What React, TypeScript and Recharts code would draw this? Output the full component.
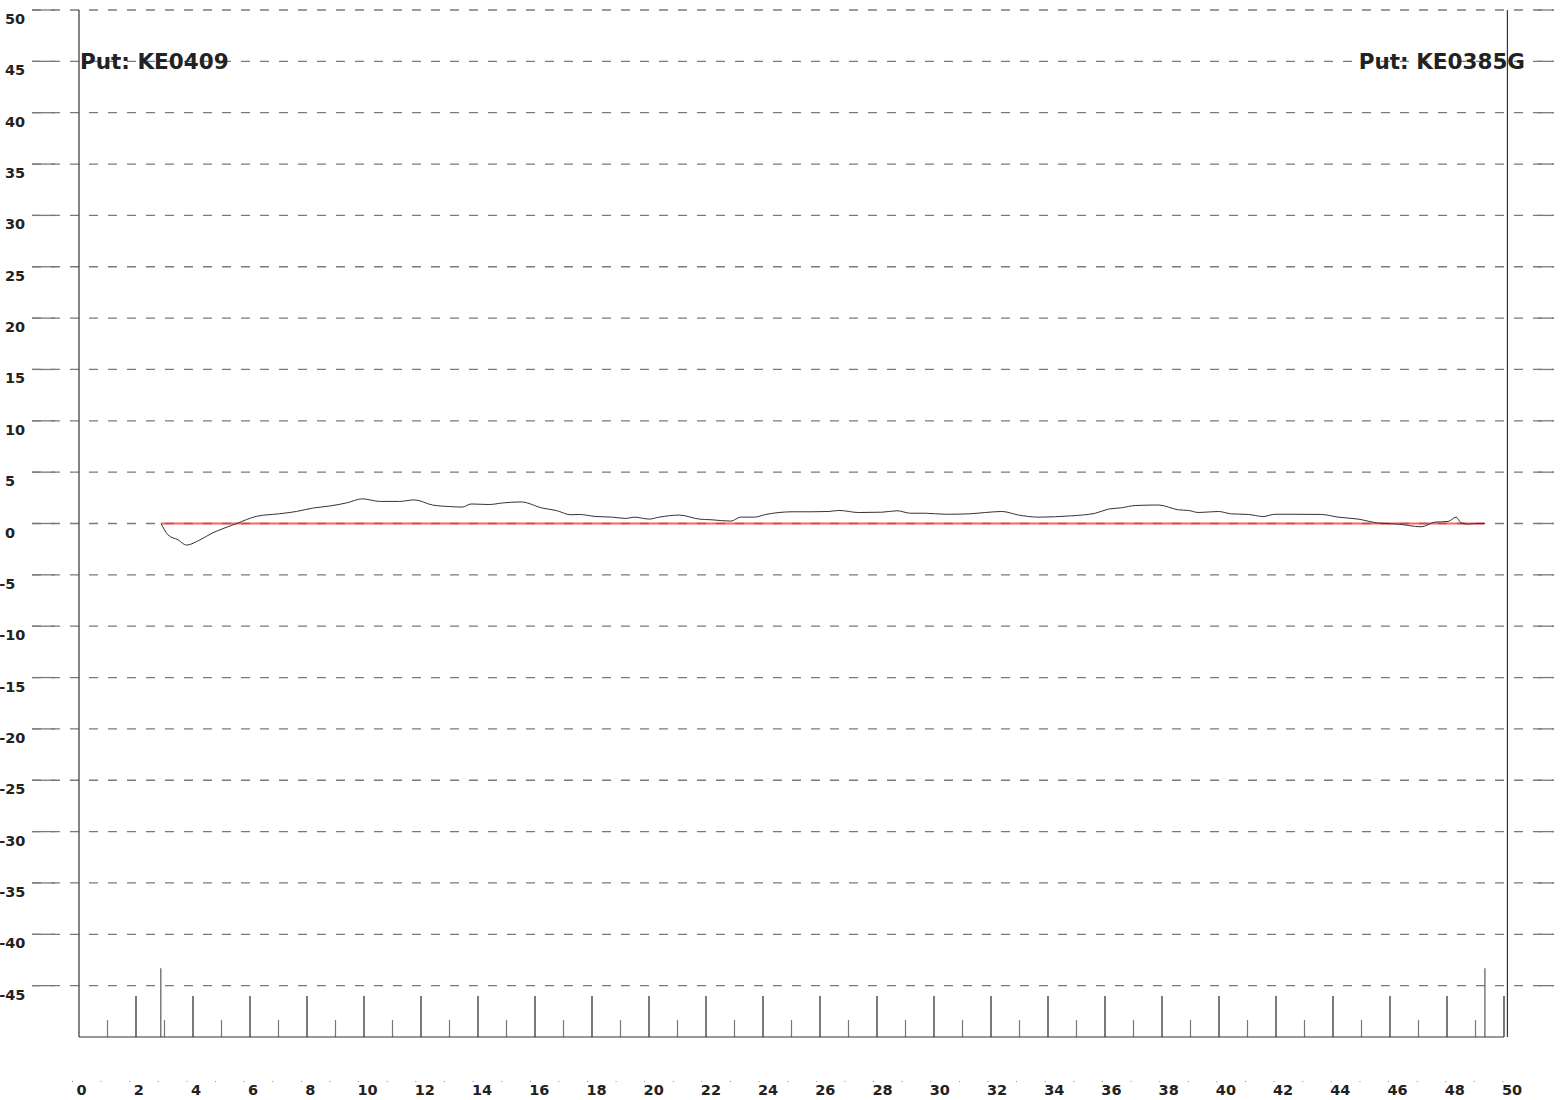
import React from 'react';
import { LineChart, Line, XAxis, YAxis, ReferenceLine } from 'recharts';

// profile (x in units along the axis, y = deviation)
const profileX = [
  2.88, 3.12, 3.48, 3.77, 4.24, 4.7, 5.05, 5.53, 6.23, 7.04, 7.63, 8.2, 8.79, 9.38, 9.95,
  10.55, 11.25, 11.77, 12.4, 13.0, 13.45, 13.76, 14.4, 14.86, 15.51, 16.26, 16.74, 17.26,
  17.55, 18.14, 18.71, 19.19, 19.48, 20.01, 20.36, 21.06, 21.76, 22.21, 22.87, 23.22,
  23.69, 24.1, 24.56, 25.02, 25.72, 26.31, 26.66, 27.36, 28.17, 28.7, 29.18, 29.7, 30.4,
  31.22, 31.8, 32.38, 32.97, 33.67, 34.26, 34.83, 35.66, 36.12, 36.58, 37.06, 37.88,
  38.58, 38.93, 39.28, 39.98, 40.43, 41.03, 41.55, 41.97, 42.67, 43.59, 44.18, 44.88,
  45.59, 46.29, 47.1, 47.57, 48.04, 48.32, 48.49, 48.74, 49.09, 49.32,
];
const profileY = [
  0, -1.1, -1.6, -2.1, -1.6, -0.9, -0.5, 0, 0.7, 0.95, 1.17, 1.5, 1.7, 2.0, 2.4,
  2.15, 2.15, 2.3, 1.8, 1.65, 1.6, 1.9, 1.85, 2.0, 2.1, 1.5, 1.27, 0.85,
  0.88, 0.68, 0.62, 0.49, 0.62, 0.43, 0.62, 0.82, 0.43, 0.36, 0.23, 0.62,
  0.62, 0.88, 1.07, 1.14, 1.14, 1.17, 1.27, 1.07, 1.1, 1.24, 1.0, 1.0, 0.9,
  0.94, 1.07, 1.17, 0.82, 0.62, 0.66, 0.75, 1.0, 1.4, 1.53, 1.75, 1.8,
  1.33, 1.27, 1.07, 1.17, 0.94, 0.88, 0.68, 0.9, 0.9, 0.88, 0.62, 0.43,
  0.04, -0.06, -0.32, 0.13, 0.2, 0.62, 0.07, -0.06, 0, 0,
];
const baselineX = [2.88, 49.32];
const baselineY = [0, 0];

const yTicks = [50, 45, 40, 35, 30, 25, 20, 15, 10, 5, 0, -5, -10, -15, -20, -25, -30, -35, -40, -45];
const xTicks = Array.from({ length: 51 }, (_, i) => i);
const majorMarks = [2, 4, 6, 8, 10, 12, 14, 16, 18, 20, 22, 24, 26, 28, 30, 32, 34, 36, 38, 40, 42, 44, 46, 48, 50];
const minorMarks = [1, 3, 5, 7, 9, 11, 13, 15, 17, 19, 21, 23, 25, 27, 29, 31, 33, 35, 37, 39, 41, 43, 45, 47, 49];
const endMarks = [2.87, 49.33];

const leftTitle = 'Put: KE0409';
const rightTitle = 'Put: KE0385G';

const W = 1568;
const H = 1100;
const FONT = '"DejaVu Sans", Verdana, sans-serif';

const profile = profileX.map((x, i) => ({ x, y: profileY[i] }));
const baseline = baselineX.map((x, i) => ({ x, y: baselineY[i] }));

const LeftTick = (props: any) => {
  const { y, payload } = props;
  const v = payload.value;
  return (
    <text x={v < 0 ? -0.8 : 5} y={y + 14} fontFamily={FONT} fontWeight="bold" fontSize={14.5} fill="#222">
      {v}
    </text>
  );
};

const RightTick = (props: any) => {
  const { y, payload } = props;
  const v = payload.value;
  return (
    <text x={v < 0 ? 1539 : 1545} y={y + 14} fontFamily={FONT} fontWeight="bold" fontSize={14.5} fill="#222">
      {v}
    </text>
  );
};

// labels sit slightly right of their tick, drifting a little further right towards 50
const BottomTick = (props: any) => {
  const { x, payload } = props;
  const v = payload.value;
  const lx = x + 2.5 + v * 0.11;
  return (
    <g>
      <rect x={lx - 9.5} y={1081} width={1} height={1} fill="#888" />
      {v % 2 === 0 && (
        <text x={lx} y={1095} textAnchor="middle" fontFamily={FONT} fontWeight="bold" fontSize={14.5} fill="#222">
          {v}
        </text>
      )}
    </g>
  );
};

export default function App() {
  return (
    <div style={{ position: 'absolute', left: 0, top: 0, width: W, height: H, background: '#fff' }}>
      <LineChart width={W} height={H} margin={{ top: 10, right: 0, bottom: 10, left: 0 }}>
        <XAxis
          type="number"
          dataKey="x"
          domain={[0, 50]}
          ticks={xTicks}
          interval={0}
          height={53}
          tickLine={false}
          axisLine={{ stroke: '#333', strokeWidth: 1.2 }}
          tick={(p: any) => <BottomTick {...p} />}
        />
        <YAxis
          yAxisId="left"
          type="number"
          domain={[-50, 50]}
          ticks={yTicks}
          interval={0}
          width={79}
          tickLine={false}
          axisLine={{ stroke: '#333', strokeWidth: 1.2 }}
          tick={(p: any) => <LeftTick {...p} />}
        />
        <YAxis
          yAxisId="right"
          orientation="right"
          type="number"
          domain={[-50, 50]}
          ticks={yTicks}
          interval={0}
          width={64}
          tickLine={false}
          axisLine={false}
          tick={(p: any) => <RightTick {...p} />}
        />

        {yTicks.map((v) => (
          <ReferenceLine
            key={`g${v}`}
            yAxisId="left"
            ifOverflow="visible"
            segment={[{ x: -1.65, y: v }, { x: 51.75, y: v }]}
            stroke="#7a7a7a"
            strokeWidth={1.3}
            strokeDasharray="9 10"
          />
        ))}
        {yTicks.map((v) => (
          <ReferenceLine
            key={`tl${v}`}
            yAxisId="left"
            ifOverflow="visible"
            segment={[{ x: -1.65, y: v }, { x: -0.84, y: v }]}
            stroke="#7a7a7a"
            strokeWidth={1.3}
          />
        ))}
        {yTicks.map((v) => (
          <ReferenceLine
            key={`tr${v}`}
            yAxisId="left"
            ifOverflow="visible"
            segment={[{ x: 51.18, y: v }, { x: 51.75, y: v }]}
            stroke="#7a7a7a"
            strokeWidth={1.3}
          />
        ))}
        <ReferenceLine
          yAxisId="left"
          ifOverflow="visible"
          segment={[{ x: 50.12, y: -50 }, { x: 50.12, y: 50 }]}
          stroke="#333"
          strokeWidth={1.2}
        />

        {majorMarks.map((v) => (
          <ReferenceLine
            key={`M${v}`}
            yAxisId="left"
            ifOverflow="visible"
            segment={[{ x: v, y: -50 }, { x: v, y: -46 }]}
            stroke="#333"
            strokeWidth={1.3}
          />
        ))}
        {minorMarks.map((v) => (
          <ReferenceLine
            key={`m${v}`}
            yAxisId="left"
            ifOverflow="visible"
            segment={[{ x: v, y: -50 }, { x: v, y: -48.35 }]}
            stroke="#777"
            strokeWidth={1.2}
          />
        ))}
        {endMarks.map((v) => (
          <ReferenceLine
            key={`e${v}`}
            yAxisId="left"
            ifOverflow="visible"
            segment={[{ x: v, y: -50 }, { x: v, y: -43.3 }]}
            stroke="#666"
            strokeWidth={1.3}
          />
        ))}

        <Line
          yAxisId="left"
          data={baseline}
          dataKey="y"
          type="linear"
          stroke="#ff3030"
          strokeOpacity={0.75}
          strokeWidth={2}
          dot={false}
          isAnimationActive={false}
        />
        <Line
          yAxisId="left"
          data={profile}
          dataKey="y"
          type="monotone"
          stroke="#333"
          strokeWidth={1}
          dot={false}
          isAnimationActive={false}
        />
      </LineChart>
      <svg width={W} height={H} style={{ position: 'absolute', left: 0, top: 0, pointerEvents: 'none' }}>
        <text x={80} y={69} fontFamily={FONT} fontWeight="bold" fontSize={21.5} fill="#222">
          {leftTitle}
        </text>
        <text x={1525} y={69} textAnchor="end" fontFamily={FONT} fontWeight="bold" fontSize={21.5} fill="#222">
          {rightTitle}
        </text>
      </svg>
    </div>
  );
}
